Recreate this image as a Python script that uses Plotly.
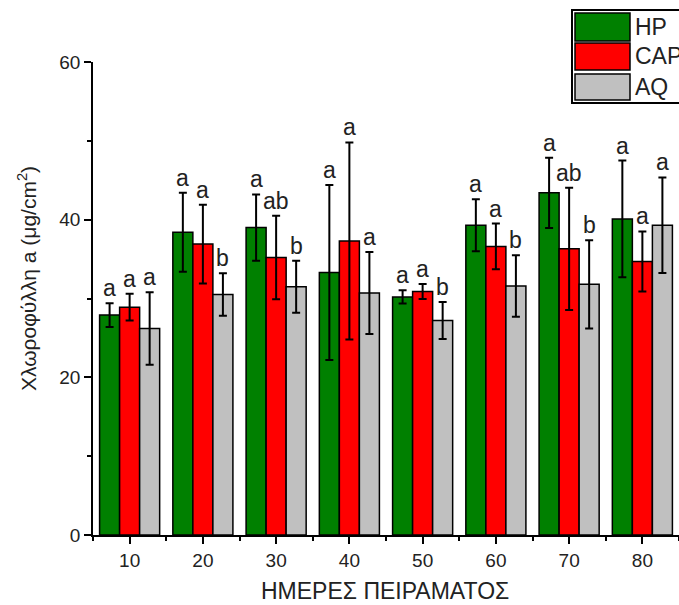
import plotly.graph_objects as go

# Experiment days (x categories)
days = [10, 20, 30, 40, 50, 60, 70, 80]

# Chlorophyll a means (μg/cm²) and standard deviations per treatment
hp = [27.9, 38.4, 39.0, 33.3, 30.2, 39.3, 43.4, 40.1]
hp_err = [1.5, 5.0, 4.2, 11.1, 0.85, 3.3, 4.45, 7.4]
cap = [28.9, 36.9, 35.2, 37.3, 30.9, 36.6, 36.3, 34.7]
cap_err = [1.7, 5.0, 5.3, 12.5, 0.95, 2.9, 7.75, 3.8]
aq = [26.2, 30.5, 31.5, 30.7, 27.2, 31.6, 31.8, 39.3]
aq_err = [4.6, 2.7, 3.3, 5.2, 2.35, 3.9, 5.6, 6.05]

# Significance letters above each bar
hp_sig = ["a", "a", "a", "a", "a", "a", "a", "a"]
cap_sig = ["a", "a", "ab", "a", "a", "a", "ab", "a"]
aq_sig = ["a", "b", "b", "a", "b", "b", "b", "a"]

names = ["HP", "CAP", "AQ"]
colors = ["#008000", "#FF0000", "#C0C0C0"]

W, H = 679, 605
ML, MR, MT, MB = 93, 0, 62, 70
FONT = "Liberation Sans, Arial, sans-serif"
BARGAP = 0.18

series = [(hp, hp_err, hp_sig), (cap, cap_err, cap_sig), (aq, aq_err, aq_sig)]

fig = go.Figure()
for (vals, errs, _), name, col in zip(series, names, colors):
    fig.add_trace(go.Bar(
        x=days, y=vals, name=name,
        marker=dict(color=col, line=dict(color="black", width=1.5)),
        error_y=dict(type="data", array=errs, visible=True,
                     color="black", thickness=2, width=4),
        showlegend=False,
    ))

# Letters over the error bars, at each bar's offset within its group
step = days[1] - days[0]
bar_w = (1 - BARGAP) * step / 3
annotations = []
for i, (vals, errs, sig) in enumerate(series):
    off = (i - 1) * bar_w
    for d, v, e, s in zip(days, vals, errs, sig):
        annotations.append(dict(
            x=d + off, y=v + e, xref="x", yref="y", text=s,
            showarrow=False, yanchor="bottom", xanchor="center",
            font=dict(family=FONT, size=23, color="#222"),
        ))

pw = W - ML - MR
ph = H - MT - MB


def px_x(px):
    return (px - ML) / pw


def px_y(py):
    return (H - MB - py) / ph


# Axis titles
annotations.append(dict(
    x=px_x(385), y=px_y(591), xref="paper", yref="paper",
    text="ΗΜΕΡΕΣ ΠΕΙΡΑΜΑΤΟΣ", showarrow=False,
    xanchor="center", yanchor="middle",
    font=dict(family=FONT, size=23, color="#222"),
))
annotations.append(dict(
    x=px_x(27), y=px_y(279), xref="paper", yref="paper",
    text="Χλωροφύλλη a (μg/cm<sup>2</sup>)", showarrow=False, textangle=-90,
    xanchor="center", yanchor="middle",
    font=dict(family=FONT, size=21, color="#222"),
))

# Legend box with large swatches
shapes = [dict(type="rect", xref="paper", yref="paper",
               x0=px_x(572), x1=px_x(700), y0=px_y(103), y1=px_y(10),
               line=dict(color="black", width=2), fillcolor="white", layer="above")]
rows = [(13, 41), (43, 70), (74, 100)]
for (top, bot), name, col in zip(rows, names, colors):
    shapes.append(dict(type="rect", xref="paper", yref="paper",
                       x0=px_x(575), x1=px_x(630), y0=px_y(bot), y1=px_y(top),
                       line=dict(color="black", width=1.5), fillcolor=col, layer="above"))
    annotations.append(dict(
        x=px_x(633), y=px_y((top + bot) / 2), xref="paper", yref="paper",
        text=name, showarrow=False, xanchor="left", yanchor="middle",
        font=dict(family=FONT, size=23, color="#222"),
    ))

fig.update_layout(
    width=W, height=H,
    margin=dict(l=ML, r=MR, t=MT, b=MB, pad=0),
    paper_bgcolor="white", plot_bgcolor="white",
    barmode="group", bargap=BARGAP, bargroupgap=0,
    annotations=annotations, shapes=shapes,
    font=dict(family=FONT, size=19, color="#222"),
)
fig.update_xaxes(
    range=[5, 85], tickvals=days, ticks="outside", ticklen=7, tickwidth=1.5,
    tickcolor="black", showline=True, linecolor="black", linewidth=1.5,
    showgrid=False, zeroline=False,
    tickfont=dict(family=FONT, size=19, color="#222"),
    minor=dict(dtick=5, tick0=0, ticks="outside", ticklen=4, tickwidth=1.5, tickcolor="black"),
)
fig.update_yaxes(
    range=[0, 60], tickvals=[0, 20, 40, 60], ticks="outside", ticklen=7, tickwidth=1.5,
    tickcolor="black", showline=True, linecolor="black", linewidth=1.5,
    showgrid=False, zeroline=False,
    tickfont=dict(family=FONT, size=19, color="#222"),
    minor=dict(dtick=10, tick0=0, ticks="outside", ticklen=4, tickwidth=1.5, tickcolor="black"),
)

fig.write_html("out.html")
